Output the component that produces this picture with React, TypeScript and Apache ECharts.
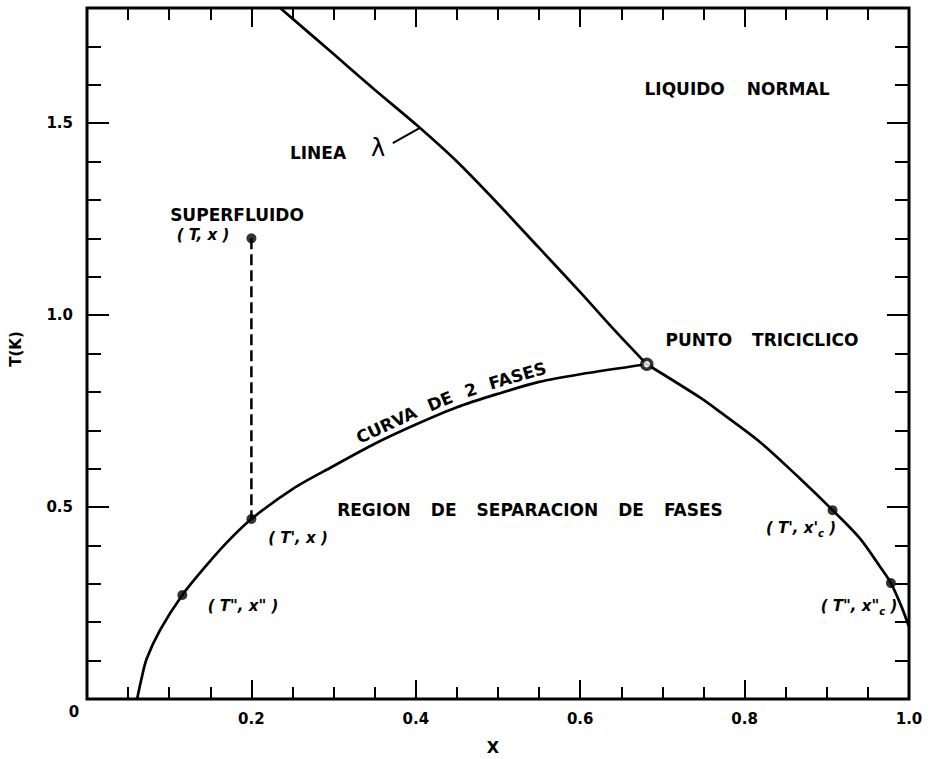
import React, { useEffect, useRef } from "react";
import * as echarts from "echarts";

// Phase diagram of liquid He3-He4 mixtures: X = He3 fraction, T in kelvin.
const lambdaLine: [number, number][] = [
  [0.235, 1.8],
  [0.3, 1.68],
  [0.35, 1.587],
  [0.4, 1.497],
  [0.45, 1.4],
  [0.5, 1.29],
  [0.55, 1.175],
  [0.6, 1.06],
  [0.64, 0.965],
  [0.681, 0.872],
];

// He4-rich branch of the two-phase (coexistence) curve
const coexistenceLeft: [number, number][] = [
  [0.061, 0.0],
  [0.066, 0.05],
  [0.0725, 0.104],
  [0.089, 0.18],
  [0.116, 0.271],
  [0.146, 0.35],
  [0.172, 0.412],
  [0.2, 0.469],
  [0.25, 0.547],
  [0.3, 0.607],
  [0.35, 0.665],
  [0.4, 0.715],
  [0.45, 0.76],
  [0.5, 0.795],
  [0.55, 0.826],
  [0.6, 0.846],
  [0.681, 0.872],
];

// He3-rich branch of the two-phase curve
const coexistenceRight: [number, number][] = [
  [0.681, 0.872],
  [0.746, 0.785],
  [0.77, 0.748],
  [0.819, 0.669],
  [0.867, 0.575],
  [0.907, 0.492],
  [0.94, 0.419],
  [0.965, 0.344],
  [0.978, 0.302],
  [0.991, 0.24],
  [1.0, 0.188],
];

const tricriticalPoint: [number, number][] = [[0.681, 0.872]];

// (T, x), (T', x), (T'', x''), (T', x'c), (T'', x''c)
const statePoints: [number, number][] = [
  [0.2, 1.2],
  [0.2, 0.469],
  [0.116, 0.271],
  [0.907, 0.492],
  [0.978, 0.302],
];

// cooling path at constant concentration
const coolingPath: [number, number][] = [
  [0.2, 1.2],
  [0.2, 0.469],
];

const lambdaPointer: [number, number][] = [
  [0.372, 1.448],
  [0.405, 1.488],
];

const xTickLabels: Record<string, string> = { "0.2": "0.2", "0.4": "0.4", "0.6": "0.6", "0.8": "0.8", "1.0": "1.0" };
const yTickLabels: Record<string, string> = { "0.5": "0.5", "1.0": "1.0", "1.5": "1.5" };
const curveCaption = ["CURVA", "DE", "2", "FASES"];

const FONT = '"DejaVu Sans", "Liberation Sans", sans-serif';
const INK = "#000";

export default function App() {
  const ref = useRef<HTMLDivElement>(null);

  useEffect(() => {
    const chart = echarts.init(ref.current!, null, { renderer: "svg" });

    const tickLine = { color: INK, width: 2 };
    const xAxisCommon = (position: "bottom" | "top", labels: boolean) => ({
      type: "value",
      position,
      min: 0,
      max: 1,
      interval: 0.2,
      axisLine: { show: false, onZero: false },
      axisTick: { show: true, inside: true, length: 19, lineStyle: tickLine },
      minorTick: { show: true, splitNumber: 4, length: 12, lineStyle: tickLine },
      splitLine: { show: false },
      axisLabel: {
        show: labels,
        margin: 12,
        color: INK,
        fontFamily: FONT,
        fontSize: 15,
        fontWeight: "bold",
        formatter: (v: number) => xTickLabels[v.toFixed(1)] ?? "",
      },
    });
    const yAxisCommon = (
      position: "left" | "right",
      interval: number,
      length: number,
      labels: boolean
    ) => ({
      type: "value",
      position,
      min: 0,
      max: 1.8,
      interval,
      axisLine: { show: false, onZero: false },
      axisTick: { show: true, inside: true, length, lineStyle: tickLine },
      splitLine: { show: false },
      axisLabel: {
        show: labels,
        margin: 14,
        color: INK,
        fontFamily: FONT,
        fontSize: 15,
        fontWeight: "bold",
        formatter: (v: number) => yTickLabels[v.toFixed(1)] ?? "",
      },
    });

    chart.setOption({
      animation: false,
      backgroundColor: "#fff",
      textStyle: { fontFamily: FONT },
      grid: {
        left: 87,
        right: 23,
        top: 8,
        bottom: 60,
        show: true,
        borderColor: INK,
        borderWidth: 3,
        backgroundColor: "transparent",
      },
      xAxis: [xAxisCommon("bottom", true), xAxisCommon("top", false)],
      yAxis: [
        yAxisCommon("left", 0.1, 14, true),
        yAxisCommon("left", 0.5, 22, false),
        yAxisCommon("right", 0.1, 14, false),
        yAxisCommon("right", 0.5, 22, false),
      ],
      series: [
        {
          type: "line",
          name: "linea lambda",
          data: lambdaLine,
          smooth: 0.25,
          showSymbol: false,
          lineStyle: { color: INK, width: 2.7 },
          z: 3,
        },
        {
          type: "line",
          name: "curva de 2 fases (He4)",
          data: coexistenceLeft,
          smooth: 0.3,
          showSymbol: false,
          lineStyle: { color: INK, width: 2.7 },
          z: 3,
        },
        {
          type: "line",
          name: "curva de 2 fases (He3)",
          data: coexistenceRight,
          smooth: 0.3,
          showSymbol: false,
          lineStyle: { color: INK, width: 2.7 },
          z: 3,
        },
        {
          type: "line",
          name: "enfriamiento",
          data: coolingPath,
          showSymbol: false,
          lineStyle: { color: INK, width: 2.5, type: [11, 5] },
          z: 3,
        },
        {
          type: "line",
          name: "indicador lambda",
          data: lambdaPointer,
          showSymbol: false,
          lineStyle: { color: INK, width: 2 },
          z: 3,
        },
        {
          type: "scatter",
          name: "estados",
          data: statePoints,
          symbol: "circle",
          symbolSize: 10,
          itemStyle: { color: INK },
          z: 4,
        },
        {
          type: "scatter",
          name: "punto tricritico",
          data: tricriticalPoint,
          symbol: "circle",
          symbolSize: 10,
          itemStyle: { color: "#fff", borderColor: INK, borderWidth: 3.5 },
          z: 5,
        },
      ],
    });

    const ctx = document.createElement("canvas").getContext("2d")!;
    const measure = (s: string, size: number, weight = "bold", style = "normal") => {
      ctx.font = `${style} ${weight} ${size}px ${FONT}`;
      return ctx.measureText(s).width;
    };

    const text = (
      s: string,
      x: number,
      y: number,
      size: number,
      opts: { weight?: string; style?: string; rotation?: number; align?: string } = {}
    ) => ({
      type: "text",
      x,
      y,
      rotation: opts.rotation ?? 0,
      z: 10,
      style: {
        text: s,
        fill: INK,
        fontFamily: FONT,
        fontSize: size,
        fontWeight: opts.weight ?? "bold",
        fontStyle: opts.style ?? "normal",
        align: opts.align ?? "center",
        verticalAlign: "middle",
        textAlign: opts.align ?? "center",
        textVerticalAlign: "middle",
      },
    });

    // words laid out on one row with wide lettering gaps, centred on (cx, cy)
    const wordRow = (s: string, cx: number, cy: number, size: number, gap: number) => {
      const words = s.split(" ");
      const widths = words.map((w) => measure(w, size));
      const total = widths.reduce((a, b) => a + b, 0) + gap * (words.length - 1);
      let x = cx - total / 2;
      return words.map((w, i) => {
        const el = text(w, x, cy, size, { align: "left" });
        x += widths[i] + gap;
        return el;
      });
    };

    const subscriptLabel = (main: string, sub: string, tail: string, cx: number, cy: number) => ({
      type: "text",
      x: cx,
      y: cy,
      z: 10,
      style: {
        text: `{m|${main}}{s|${sub}}{m|${tail}}`,
        fill: INK,
        align: "center",
        verticalAlign: "middle",
        textAlign: "center",
        textVerticalAlign: "middle",
        rich: {
          m: { fontFamily: FONT, fontSize: 15, fontWeight: "bold", fontStyle: "italic", fill: INK, lineHeight: 20 },
          s: {
            fontFamily: FONT,
            fontSize: 10,
            fontWeight: "bold",
            fontStyle: "italic",
            fill: INK,
            lineHeight: 20,
            verticalAlign: "bottom",
            padding: [8, 0, 0, 0],
          },
        },
      },
    });

    // caption following the He4-rich branch of the two-phase curve
    const curvePx = coexistenceLeft.map((p) => chart.convertToPixel({ gridIndex: 0 }, p) as number[]);
    const cum: number[] = [0];
    for (let i = 1; i < curvePx.length; i++) {
      const dx = curvePx[i][0] - curvePx[i - 1][0];
      const dy = curvePx[i][1] - curvePx[i - 1][1];
      cum.push(cum[i - 1] + Math.hypot(dx, dy));
    }
    const pointAt = (s: number) => {
      let i = 1;
      while (i < cum.length - 1 && cum[i] < s) i++;
      const a = curvePx[i - 1];
      const b = curvePx[i];
      const seg = cum[i] - cum[i - 1];
      const t = (s - cum[i - 1]) / seg;
      const tx = (b[0] - a[0]) / seg;
      const ty = (b[1] - a[1]) / seg;
      return { x: a[0] + (b[0] - a[0]) * t, y: a[1] + (b[1] - a[1]) * t, tx, ty };
    };
    const captionStartX = (chart.convertToPixel({ gridIndex: 0 }, [0.335, 0]) as number[])[0];
    let sStart = 0;
    for (let s = 0; s < cum[cum.length - 1]; s += 0.5) {
      if (pointAt(s).x >= captionStartX) {
        sStart = s;
        break;
      }
    }
    const curveSize = 17;
    const curveGap = 13;
    const curveOffset = 12;
    let s = sStart;
    const curved = curveCaption.map((w) => {
      const wWidth = measure(w, curveSize);
      const p = pointAt(s + wWidth / 2);
      const nx = p.ty;
      const ny = -p.tx;
      s += wWidth + curveGap;
      return text(w, p.x + nx * curveOffset, p.y + ny * curveOffset, curveSize, {
        rotation: Math.atan2(-p.ty, p.tx),
      });
    });

    const elements = [
      ...wordRow("LIQUIDO NORMAL", 737, 89, 17, 22),
      ...wordRow("PUNTO TRICICLICO", 762, 340, 17, 20),
      ...wordRow("REGION DE SEPARACION DE FASES", 530, 510, 17, 20),
      text("SUPERFLUIDO", 237, 215, 17),
      text("LINEA", 318, 153, 17),
      text("λ", 378, 148, 24, { weight: "normal" }),
      text("( T, x )", 203, 235, 15, { style: "italic" }),
      text("( T', x )", 298, 538, 15, { style: "italic" }),
      text('( T", x" )', 243, 606, 15, { style: "italic" }),
      subscriptLabel("( T', x'", "c", " )", 801, 528),
      subscriptLabel('( T", x"', "c", " )", 859, 606),
      text("T(K)", 16, 349, 15, { rotation: Math.PI / 2 }),
      text("X", 493, 747, 16),
      text("0", 74, 712, 15),
      ...curved,
    ];

    chart.setOption({ graphic: { elements } });

    return () => chart.dispose();
  }, []);

  return (
    <div
      ref={ref}
      style={{ position: "fixed", left: 0, top: 0, width: 932, height: 759, background: "#fff" }}
    />
  );
}
